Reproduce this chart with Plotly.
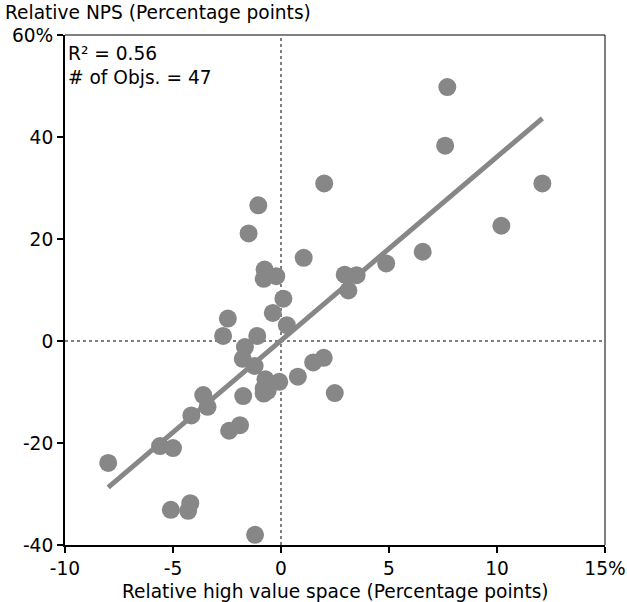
import numpy as np
import plotly.graph_objects as go

# Relative high value space (pp) and relative NPS (pp)
x_vals = [7.7, 7.6, 12.1, 2.0, -1.05, 10.2, -1.5, 1.05, 6.56, 4.87,
          2.95, 3.5, 3.12, -0.76, -0.8, -0.22, 0.11, -0.38, 0.27, -2.46,
          -2.68, -1.1, -1.67, -1.77, -1.22, -0.72, -0.08, -0.8, -0.8, 0.78,
          1.49, 1.98, 2.49, -1.75, -3.6, -3.4, -4.15, -2.4, -1.9, -5.6,
          -5.0, -8.0, -5.1, -4.2, -4.3, -1.2, -0.62]
y_vals = [49.8, 38.3, 30.9, 30.9, 26.6, 22.6, 21.1, 16.3, 17.5, 15.2,
          13.0, 12.9, 9.9, 14.0, 12.2, 12.7, 8.3, 5.5, 3.1, 4.4,
          1.0, 1.0, -1.2, -3.5, -4.9, -7.5, -8.0, -9.3, -10.3, -7.0,
          -4.2, -3.3, -10.2, -10.8, -10.6, -12.9, -14.6, -17.6, -16.5, -20.6,
          -21.0, -23.9, -33.1, -31.8, -33.3, -38.0, -9.8]

x_ticks = [-10, -5, 0, 5, 10, 15]
x_tick_text = ["-10", "-5", "0", "5", "10", "15%"]
y_ticks = [-40, -20, 0, 20, 40, 60]
y_tick_text = ["-40", "-20", "0", "20", "40", "60%"]

r2_text = "R\u00b2 = 0.56"
n_text = "# of Objs. = 47"
x_title = "Relative high value space (Percentage points)"
y_title = "Relative NPS (Percentage points)"

xa = np.array(x_vals)
ya = np.array(y_vals)
slope, intercept = np.polyfit(xa, ya, 1)
fx = np.array([xa.min(), xa.max()])
fy = slope * fx + intercept

GREY = "#878787"
FONT = "DejaVu Sans, Verdana, sans-serif"
FS = 18.6

fig = go.Figure()
fig.add_trace(go.Scatter(x=x_vals, y=y_vals, mode="markers",
                         marker=dict(size=18, color=GREY, line=dict(width=0)),
                         hoverinfo="skip", showlegend=False))
fig.add_trace(go.Scatter(x=fx, y=fy, mode="lines",
                         line=dict(color=GREY, width=5),
                         hoverinfo="skip", showlegend=False))

# reference lines at zero
fig.add_shape(type="line", xref="x", yref="paper", x0=0, x1=0, y0=0, y1=1,
              line=dict(color="#555555", width=1.5, dash="dot"), layer="below")
fig.add_shape(type="line", xref="paper", yref="y", x0=0, x1=1, y0=0, y1=0,
              line=dict(color="#555555", width=1.5, dash="dot"), layer="below")
# thin top and right frame
fig.add_shape(type="line", xref="paper", yref="paper", x0=0, x1=1, y0=1, y1=1,
              line=dict(color="black", width=1))
fig.add_shape(type="line", xref="paper", yref="paper", x0=1, x1=1, y0=0, y1=1,
              line=dict(color="black", width=1))

fig.add_annotation(xref="paper", yref="paper", x=0, y=1, xshift=1, yshift=-6,
                   xanchor="left", yanchor="top", align="left", showarrow=False,
                   text=r2_text + "<br>" + n_text,
                   font=dict(family=FONT, size=FS, color="black"))
fig.add_annotation(xref="paper", yref="paper", x=0, y=1, xshift=-62, yshift=23,
                   xanchor="left", yanchor="middle", showarrow=False,
                   text=y_title, font=dict(family=FONT, size=FS, color="black"))
fig.add_annotation(xref="paper", yref="paper", x=0.5, y=0, yshift=-46,
                   xanchor="center", yanchor="middle", showarrow=False,
                   text=x_title, font=dict(family=FONT, size=FS, color="black"))

fig.update_layout(
    width=627, height=602,
    margin=dict(l=65, r=22, t=35, b=57, autoexpand=False),
    paper_bgcolor="white", plot_bgcolor="white",
    font=dict(family=FONT, size=FS, color="black"),
    xaxis=dict(range=[-10, 15], tickvals=x_ticks, ticktext=x_tick_text,
               showgrid=False, zeroline=False, showline=True, linecolor="black",
               linewidth=2, ticks="outside", ticklen=6, tickwidth=2,
               tickcolor="black", automargin=False,
               tickfont=dict(family=FONT, size=FS)),
    yaxis=dict(range=[-40, 60], tickvals=y_ticks, ticktext=y_tick_text,
               showgrid=False, zeroline=False, showline=True, linecolor="black",
               linewidth=2, ticks="outside", ticklen=6, tickwidth=2,
               tickcolor="black", automargin=False,
               tickfont=dict(family=FONT, size=FS)),
)

# remove the browser's default 8px page margin so the figure fills the window
fig.write_html("out.html",
               config={"displayModeBar": False},
               post_script="document.body.style.margin='0';"
                           "document.body.style.overflow='hidden';")
